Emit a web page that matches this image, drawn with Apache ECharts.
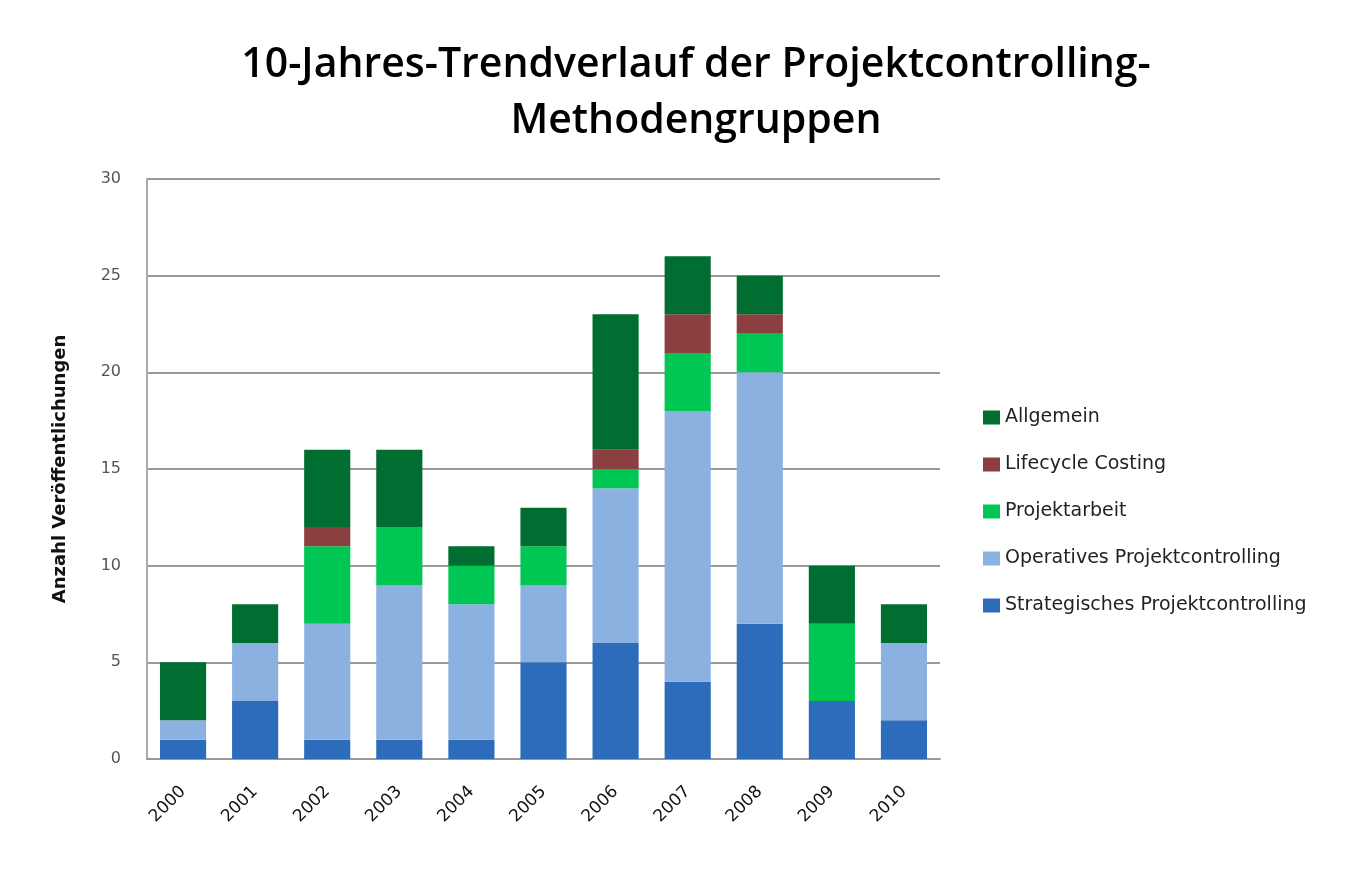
<!DOCTYPE html>
<html>
<head>
<meta charset="utf-8">
<script src="https://cdn.jsdelivr.net/npm/echarts@6/dist/echarts.min.js"></script>
<style>
html,body{margin:0;padding:0;background:#fff;}
#chart{width:1349px;height:869px;}
</style>
</head>
<body>
<div id="chart"></div>
<script>
const years = ['2000','2001','2002','2003','2004','2005','2006','2007','2008','2009','2010'];
const strategisches = [1,3,1,1,1,5,6,4,7,3,2];
const operatives    = [1,3,6,8,7,4,8,14,13,0,4];
const projektarbeit = [0,0,4,3,2,2,1,3,2,4,0];
const lifecycle     = [0,0,1,0,0,0,1,2,1,0,0];
const allgemein     = [3,2,4,4,1,2,7,3,2,3,2];
const yTicks = [0,5,10,15,20,25,30];

const names = ['Strategisches Projektcontrolling','Operatives Projektcontrolling','Projektarbeit','Lifecycle Costing','Allgemein'];
const colors = ['#2c6cbb','#8bb1e1','#00c653','#8b3f3f','#006e31'];
const datas = [strategisches, operatives, projektarbeit, lifecycle, allgemein];

const chart = echarts.init(document.getElementById('chart'));
chart.setOption({
  backgroundColor:'#fff',
  animation:false,
  title:{
    text:'10-Jahres-Trendverlauf der Projektcontrolling-\nMethodengruppen',
    left:691, top:32, textAlign:'center',
    textStyle:{fontFamily:'Open Sans', fontSize:41, fontWeight:600, color:'#000', lineHeight:56}
  },
  legend:{
    orient:'vertical', left:978, top:403,
    data:['Allgemein','Lifecycle Costing','Projektarbeit','Operatives Projektcontrolling','Strategisches Projektcontrolling'],
    itemWidth:17, itemHeight:14, itemGap:28,
    textStyle:{fontFamily:'DejaVu Sans', fontSize:19, color:'#222', lineHeight:19},
    icon:'rect'
  },
  grid:{left:147, right:409, top:179, bottom:110},
  xAxis:{
    type:'category', data:years,
    axisLine:{lineStyle:{color:'#999', width:2}},
    axisTick:{show:false},
    axisLabel:{rotate:45, fontFamily:'DejaVu Sans', fontSize:17, color:'#111', margin:30}
  },
  yAxis:{
    type:'value', min:yTicks[0], max:yTicks[yTicks.length-1], interval:5,
    name:'Anzahl Veröffentlichungen', nameLocation:'middle', nameGap:78, nameRotate:90,
    nameTextStyle:{fontFamily:'DejaVu Sans', fontSize:18, color:'#111', fontWeight:'bold'},
    axisLine:{show:true, lineStyle:{color:'#aaa', width:2}},
    axisTick:{show:false},
    axisLabel:{fontFamily:'DejaVu Sans', fontSize:16, color:'#555', margin:26},
    splitLine:{lineStyle:{color:'#999', width:2}}
  },
  series: names.map((n,i)=>({
    name:n, type:'bar', stack:'total', data:datas[i], barWidth:'64%',
    itemStyle:{color:colors[i]}
  }))
});
</script>
</body>
</html>
